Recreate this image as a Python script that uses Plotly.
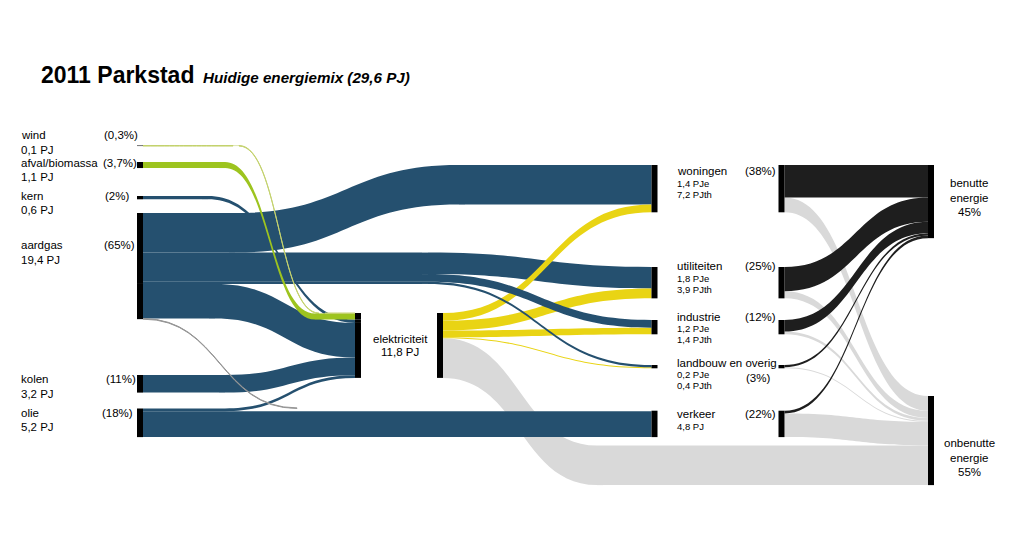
import plotly.graph_objects as go

W, H = 1024, 541
KY = 5.5      # layout scale: pixels per PJ
PAD = 2
FONT = "Liberation Sans, Arial, Helvetica, sans-serif"

# ---------------- data (PJ) ----------------
source_labels = ["wind", "afval/biomassa", "kern", "aardgas", "kolen", "olie"]
source_pj_text = ["0,1 PJ", "1,1 PJ", "0,6 PJ", "19,4 PJ", "3,2 PJ", "5,2 PJ"]
source_pct = ["(0,3%)", "(3,7%)", "(2%)", "(65%)", "(11%)", "(18%)"]
to_electricity = [0.1, 1.1, 0.6, 6.3, 3.2, 0.5]        # per source, same order

sector_labels = ["woningen", "utiliteiten", "industrie", "landbouw en overig", "verkeer"]
sector_sub = [["1,4 PJe", "7,2 PJth"], ["1,8 PJe", "3,9 PJth"], ["1,2 PJe", "1,4 PJth"],
              ["0,2 PJe", "0,4 PJth"], ["4,8 PJ"]]
sector_pct = ["(38%)", "(25%)", "(12%)", "(3%)", "(22%)"]
gas_direct = [7.2, 3.9, 1.4, 0.4, 0.1]
oil_direct = [0.0, 0.0, 0.0, 0.0, 4.7]
elec_to_sector = [1.4, 1.8, 1.2, 0.2, 0.0]
elec_loss = 7.2
sector_used = [5.9, 4.4, 2.1, 0.4, 0.5]
sector_unused = [2.7, 1.3, 0.5, 0.2, 4.3]

elec_label = ["elektriciteit", "11,8 PJ"]
final_labels = [["benutte", "energie", "45%"], ["onbenutte", "energie", "55%"]]
title = "2011 Parkstad"
subtitle = "Huidige energiemix (29,6 PJ)"

# ---------------- styles ----------------
BLUE = "rgb(37,80,111)"
GREEN = "rgb(157,196,31)"
WINDC = "rgb(196,210,110)"
YELLOW = "rgb(233,212,20)"
GRAY = "rgb(217,217,217)"
BLACKF = "rgb(30,30,30)"
THIN = "rgb(150,150,150)"
NONE = "rgba(0,0,0,0)"
NODE = "black"

# ---------------- links (drawing order = z-order) ----------------
links = []
def link(s, t, v, c):
    if v > 0:
        links.append(dict(s=s, t=t, v=v, c=c))

S0 = sum(to_electricity) + sum(gas_direct) + sum(oil_direct)
BALLAST = (H - 7 * PAD) / KY - S0   # invisible off-screen flow fixing the scale

sector_total = [gas_direct[i] + oil_direct[i] + elec_to_sector[i] for i in range(5)]

# invisible connectors
link("elecA", "elecOut", to_electricity[0] + to_electricity[1], NONE)
link("elecK", "elecOut", to_electricity[2], NONE)
link("elecB", "elecOut", sum(to_electricity[3:]), NONE)
for i in range(5):
    link(f"in{i}", f"out{i}", sector_total[i], NONE)
link("G5", "in4", gas_direct[4], NONE)
link("ballastA", "ballastB", BALLAST, NONE)
# losses
link("elecOut", "Dloss", elec_loss, GRAY)
link("Dloss", "onb", elec_loss, GRAY)
for i in range(5):
    link(f"out{i}", "onb", sector_unused[i], GRAY)
# fuels (blue)
link("kern", "K1", to_electricity[2], BLUE)
link("K1", "elecK", to_electricity[2], BLUE)
link("gasA", "G1", gas_direct[0], BLUE)
link("G1", "G2", gas_direct[0], BLUE)
link("G2", "in0", gas_direct[0], BLUE)
link("gasA", "Gu", gas_direct[1], BLUE)
link("Gu", "in1", gas_direct[1], BLUE)
link("gasB", "A1", to_electricity[3], BLUE)
link("A1", "elecB", to_electricity[3], BLUE)
link("kolen", "C1", to_electricity[4], BLUE)
link("C1", "elecB", to_electricity[4], BLUE)
link("olie", "O1", to_electricity[5], BLUE)
link("O1", "elecB", to_electricity[5], BLUE)
link("olie", "in4", oil_direct[4], BLUE)
# electricity to sectors
for i in range(4):
    link("elecOut", f"in{i}", elec_to_sector[i], YELLOW)
link("gasA", "G3", gas_direct[2], BLUE)
link("G3", "in2", gas_direct[2], BLUE)
link("gasA", "G4", gas_direct[3], BLUE)
link("G4", "in3", gas_direct[3], BLUE)
# biomass / wind
link("bio", "B1", to_electricity[1], GREEN)
link("B1", "B2", to_electricity[1], GREEN)
link("B2", "elecA", to_electricity[1], GREEN)
link("wind", "W1", to_electricity[0], WINDC)
link("W1", "W2", to_electricity[0], WINDC)
link("W2", "elecA", to_electricity[0], WINDC)
link("gasB", "G5", gas_direct[4], THIN)
# useful energy
for i in range(5):
    link(f"out{i}", "ben", sector_used[i], BLACKF)

# node values
inflow, outflow = {}, {}
for l in links:
    outflow[l["s"]] = outflow.get(l["s"], 0) + l["v"]
    inflow[l["t"]] = inflow.get(l["t"], 0) + l["v"]
keys = list(dict.fromkeys([l["s"] for l in links] + [l["t"] for l in links]))
val = {k: max(inflow.get(k, 0), outflow.get(k, 0)) for k in keys}
def hgt(k):
    return val[k] * KY

# ---------------- node layout (x centre px, top px, colour) ----------------
pos = {}
def place(k, x, top, color=NODE):
    pos[k] = (x, top, color)

place("wind", 140, 145.5)
place("bio", 140, 162)
place("kern", 140, 196)
place("gasA", 140, 213)
place("gasB", 140, 213 + hgt("gasA"))
place("kolen", 140, 375)
place("olie", 140, 408.5)
place("elecA", 358, 313)
place("elecK", 358, 313 + hgt("elecA"))
place("elecB", 358, pos["elecK"][1] + hgt("elecK"))
place("elecOut", 440, 313)
place("W1", 236, pos["wind"][1], WINDC)
place("W2", 322, pos["elecA"][1], WINDC)
place("B1", 222, pos["bio"][1], GREEN)
place("B2", 318, pos["elecA"][1] + hgt("W2"), GREEN)
place("K1", 205, pos["kern"][1], BLUE)
place("A1", 212, pos["gasB"][1], BLUE)
place("C1", 222, pos["kolen"][1], BLUE)
place("O1", 222, pos["olie"][1], BLUE)
place("G1", 232, pos["gasA"][1], BLUE)
place("G2", 462, 165, BLUE)
place("Gu", 425, pos["gasA"][1] + hgt("G1"), BLUE)
place("G3", 425, pos["Gu"][1] + hgt("Gu"), BLUE)
place("G4", 425, pos["G3"][1] + hgt("G3"), BLUE)
place("G5", 300, pos["olie"][1] - 0.6, NONE)
sector_tops = [165, 267, 320, 365, pos["olie"][1] + to_electricity[5] * KY - gas_direct[4] * KY]
for i in range(5):
    place(f"in{i}", 654.5, sector_tops[i])
    place(f"out{i}", 781.5, sector_tops[i])
place("ben", 931, 165)
place("onb", 931, 396)
place("Dloss", 600, 396 + sum(sector_unused) * KY, GRAY)
place("ballastA", 500, 3000, NONE)
place("ballastB", 600, 3000, NONE)

idx = {k: i for i, k in enumerate(keys)}
node_x = [pos[k][0] / W for k in keys]
node_y = [(pos[k][1] + hgt(k) / 2) / H for k in keys]
node_c = [pos[k][2] for k in keys]

fig = go.Figure(go.Sankey(
    arrangement="fixed",
    hoverinfo="skip",
    node=dict(pad=PAD, thickness=6, x=node_x, y=node_y, color=node_c,
              label=[""] * len(keys), line=dict(width=0), hoverinfo="skip"),
    link=dict(source=[idx[l["s"]] for l in links],
              target=[idx[l["t"]] for l in links],
              value=[l["v"] for l in links],
              color=[l["c"] for l in links],
              line=dict(width=0),
              hoverinfo="skip"),
    domain=dict(x=[0, 1], y=[0, 1]),
))

ann = []
def txt(x, base, text, size=11.5, anchor="left"):
    yc = base - 0.35 * size
    ann.append(dict(x=x / W, y=1 - yc / H, xref="paper", yref="paper", text=text,
                    showarrow=False, xanchor=anchor, yanchor="middle",
                    font=dict(family=FONT, size=size, color="black")))

txt(39, 83.3, "<b>" + title + "</b>", 23)
txt(201, 83.3, "<b><i>" + subtitle + "</i></b>", 15.2)

src_base = [139.5, 166.7, 200, 249.3, 383.3, 416.7]
src_pct_x = [102, 101, 103, 102, 104, 100]
for i in range(6):
    txt(19, src_base[i], source_labels[i])
    txt(19, src_base[i] + 14.5, source_pj_text[i])
    txt(src_pct_x[i], src_base[i], source_pct[i])

txt(400, 342.7, elec_label[0], anchor="center")
txt(400, 356.5, elec_label[1], anchor="center")

sec_base = [175, 270, 320.7, 366.7, 418.3]
for i in range(5):
    txt(675, sec_base[i], sector_labels[i])
    for j, s in enumerate(sector_sub[i]):
        txt(675, sec_base[i] + 11.5 + 11 * j, s, 9.5)
    if i == 3:
        txt(744, sec_base[i] + 15, sector_pct[i])
    else:
        txt(743, sec_base[i], sector_pct[i])

for lines, b0 in zip(final_labels, [187.3, 447.3]):
    for j, s in enumerate(lines):
        txt(969, b0 + 14.5 * j, s, anchor="center")

fig.update_layout(width=W, height=H, margin=dict(l=0, r=0, t=0, b=0),
                  paper_bgcolor="white", plot_bgcolor="white",
                  font=dict(family=FONT), annotations=ann)
fig.write_html("out.html")
